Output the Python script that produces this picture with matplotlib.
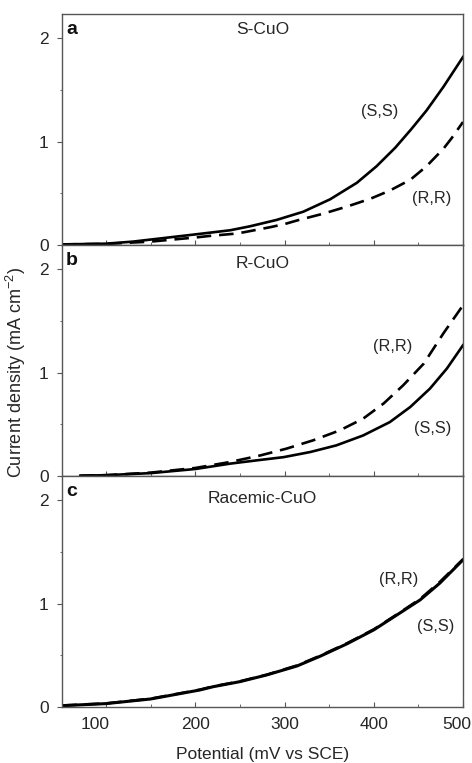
import matplotlib
matplotlib.use('Agg')
import matplotlib.pyplot as plt
from matplotlib.ticker import MultipleLocator

plt.rcParams['font.family'] = ['Liberation Sans', 'DejaVu Sans']
plt.rcParams['mathtext.fontset'] = 'custom'
plt.rcParams['mathtext.rm'] = 'Liberation Sans'
plt.rcParams['mathtext.it'] = 'Liberation Sans:italic'

# potentials (mV vs SCE) and current densities (mA cm-2)
pot_a_ss = [51, 100, 130, 160, 200, 239, 261, 291, 321, 351, 381, 403, 424, 442, 459, 478, 500]
a_ss = [0.003, 0.01, 0.03, 0.06, 0.10, 0.14, 0.178, 0.24, 0.32, 0.44, 0.60, 0.76, 0.94, 1.12, 1.30, 1.53, 1.82]
pot_a_rr = [51, 100, 150, 200, 216, 242, 254, 269, 284, 300, 314, 343, 370, 396, 418, 441, 459, 478, 487, 500]
a_rr = [0.003, 0.008, 0.03, 0.07, 0.085, 0.105, 0.12, 0.145, 0.17, 0.20, 0.235, 0.30, 0.37, 0.445, 0.525, 0.63, 0.76, 0.93, 1.03, 1.19]

pot_b_ss = [71, 100, 150, 200, 239, 269, 299, 329, 358, 388, 418, 441, 463, 482, 500]
b_ss = [0.0, 0.005, 0.025, 0.065, 0.117, 0.149, 0.18, 0.23, 0.294, 0.39, 0.52, 0.667, 0.845, 1.04, 1.265]
pot_b_rr = [71, 100, 150, 200, 239, 273, 302, 332, 362, 388, 411, 433, 456, 478, 499]
b_rr = [0.0, 0.005, 0.03, 0.075, 0.133, 0.197, 0.262, 0.343, 0.44, 0.553, 0.70, 0.877, 1.087, 1.38, 1.64]

pot_c = [51, 100, 150, 205, 220, 250, 280, 314, 340, 370, 400, 429, 452, 474, 500]
c_ss = [0.01, 0.03, 0.075, 0.162, 0.194, 0.243, 0.308, 0.395, 0.49, 0.61, 0.745, 0.907, 1.036, 1.198, 1.424]
c_rr = [0.012, 0.032, 0.078, 0.165, 0.197, 0.246, 0.31, 0.40, 0.495, 0.615, 0.75, 0.912, 1.045, 1.21, 1.43]

x_ticks = [100, 200, 300, 400, 500]
x_labels = ['100', '200', '300', '400', '500']

panels = [
    ('a', 'S-CuO', pot_a_ss, a_ss, pot_a_rr, a_rr, (407, 1.29), (465, 0.447), 16),
    ('b', 'R-CuO', pot_b_ss, b_ss, pot_b_rr, b_rr, (466, 0.456), (421, 1.25), 19),
    ('c', 'Racemic-CuO', pot_c, c_ss, pot_c, c_rr, (469, 0.777), (428, 1.23), 23),
]

W, H = 472, 763
fig = plt.figure(figsize=(W / 100, H / 100), dpi=100)
left, width = 62 / W, 401 / W
h = 231 / H
bottom0 = 1 - 706.7 / H

edge = '#555555'
txt = '#262626'
for i, (letter, title, px_ss, ss, px_rr, rr, ss_pos, rr_pos, title_off) in enumerate(panels):
    ax = fig.add_axes([left, bottom0 + (2 - i) * h, width, h])
    ax.plot(px_rr, rr, color='black', lw=1.9, ls=(0, (5.5, 3)))
    ax.plot(px_ss, ss, color='black', lw=1.9 if i < 2 else 2.2)
    ax.set_xlim(50.5, 500)
    ax.set_ylim(0, 2.24)
    ax.set_xticks(x_ticks)
    ax.xaxis.set_minor_locator(MultipleLocator(50))
    ax.yaxis.set_major_locator(MultipleLocator(1))
    ax.yaxis.set_minor_locator(MultipleLocator(0.5))
    ax.tick_params(axis='x', which='both', direction='in', color=edge, labelbottom=False)
    ax.tick_params(axis='x', which='major', length=3.6)
    ax.tick_params(axis='x', which='minor', length=2.2)
    ax.tick_params(axis='y', which='major', direction='out', length=3.6, color=edge,
                   labelsize=12.5, pad=6, labelcolor=txt)
    ax.tick_params(axis='y', which='minor', direction='out', length=1.5, color=edge)
    for sp in ax.spines.values():
        sp.set_color(edge)
        sp.set_linewidth(1.0)
    ax.text(4 / 401, 1 - 20 / 231, letter, transform=ax.transAxes, fontsize=14,
            fontweight='bold', va='baseline', ha='left', color='#111111')
    ax.text(0.5, 1 - title_off / 231, title, transform=ax.transAxes, fontsize=12.5,
            va='center', ha='center', color=txt)
    ax.text(ss_pos[0], ss_pos[1], '(S,S)', fontsize=11.7, ha='center', va='center', color=txt)
    ax.text(rr_pos[0], rr_pos[1], '(R,R)', fontsize=11.7, ha='center', va='center', color=txt)
    if i == 2:
        # tick labels drawn by hand: the outer ones sit a little left of their ticks
        shifts = [-12, 0, 0, 0, -7]
        for xt, lab, sh in zip(x_ticks, x_labels, shifts):
            ax.text(xt + sh, -18 / 231, lab, transform=ax.get_xaxis_transform(),
                    fontsize=12.5, ha='center', va='center', color=txt)

fig.text(0.5 * (62 + 463) / W, 1 - 755 / H, 'Potential (mV vs SCE)', fontsize=12.5,
         ha='center', va='center', color=txt)
fig.text(16 / W, 1 - 373 / H, 'Current density (mA cm$^{\u2212 2}$)', rotation=90,
         fontsize=13, ha='center', va='center', color=txt)

fig.savefig('out.png', dpi=100)
